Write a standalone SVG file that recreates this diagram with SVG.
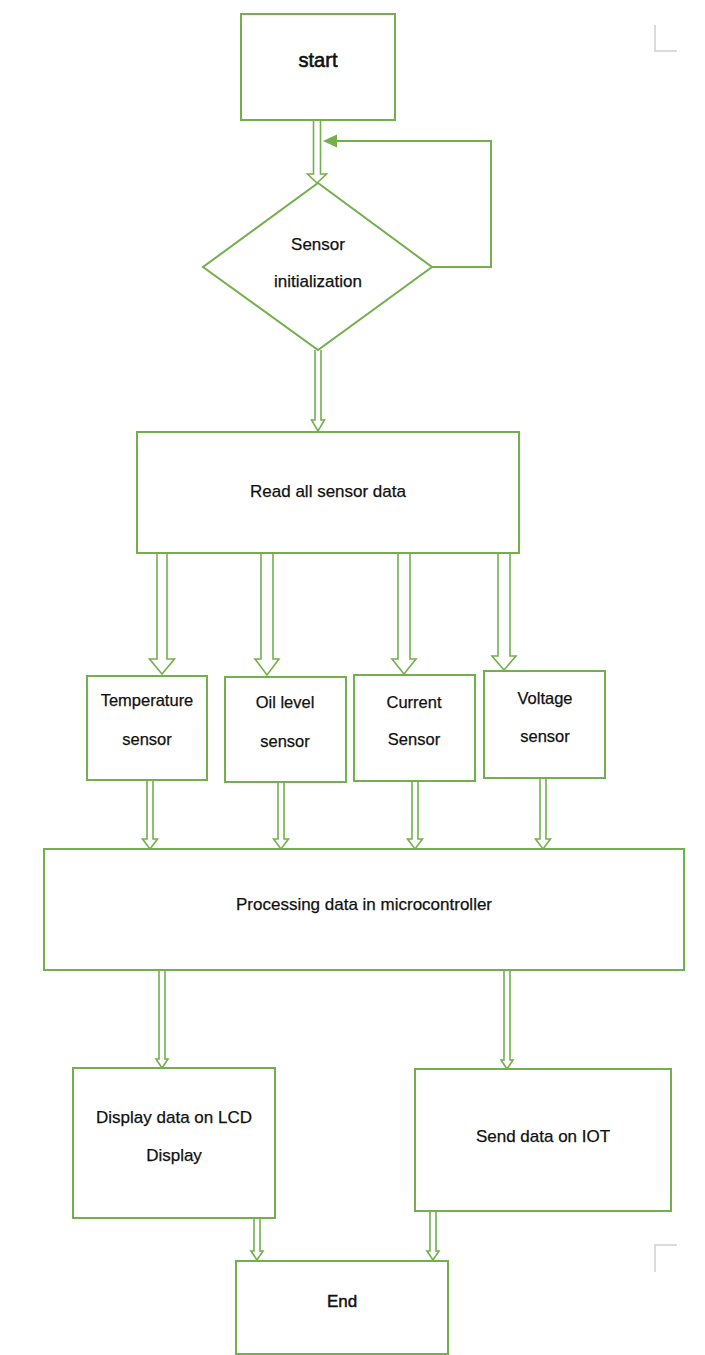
<svg xmlns="http://www.w3.org/2000/svg" width="705" height="1355" viewBox="0 0 705 1355">
<style>
.box{fill:#ffffff;stroke:#74AF4E;stroke-width:2}
.arr{fill:#ffffff;stroke:#74AF4E;stroke-width:1.6;stroke-linejoin:miter}
.line{fill:none;stroke:#74AF4E;stroke-width:2}
.head{fill:#74AF4E;stroke:none}
.t{font-family:"Liberation Sans",Arial,sans-serif;font-size:17px;fill:#111111;text-anchor:middle;stroke:#111111;stroke-width:0.25}
.t16{font-size:16.5px}
.big{font-size:20px;stroke-width:0.6}
.endt{font-size:17px;stroke-width:0.45}
.mark{fill:none;stroke:#d0d0d0;stroke-width:1.5}
</style>
<rect x="0" y="0" width="705" height="1355" fill="#ffffff"/>
<g id="marks">
<polyline class="mark" points="655,25 655,51 677,51"/>
<polyline class="mark" points="655,1272 655,1245 677,1245"/>
</g>
<g id="connectors">
<polyline class="arr" points="313.5,120 313.5,174 307.5,174 317,183 326.5,174 320.5,174 320.5,120"/>
<polyline class="line" points="432,267 491,267 491,141 336,141"/>
<polygon class="head" points="323,141 337,134.5 337,147.5"/>
<polyline class="arr" points="315,350 315,420 311.5,420 318,431 324.5,420 321,420 321,350"/>
<polyline class="arr" points="157,553 157,659 149.5,659 162,674 174.5,659 167,659 167,553"/>
<polyline class="arr" points="261,553 261,659 255,659 267,675 279,659 273,659 273,553"/>
<polyline class="arr" points="398,553 398,659 392,659 404,674 416,659 410,659 410,553"/>
<polyline class="arr" points="498,553 498,656 492,656 504,670 516,656 510,656 510,553"/>
<polyline class="arr" points="147,780 147,839 142.5,839 150,849 157.5,839 153,839 153,780"/>
<polyline class="arr" points="278,782 278,839 273.5,839 281,849 288.5,839 284,839 284,782"/>
<polyline class="arr" points="412,781 412,839 407.5,839 415,849 422.5,839 418,839 418,781"/>
<polyline class="arr" points="540,778 540,839 535.5,839 543,849 550.5,839 546,839 546,778"/>
<polyline class="arr" points="159,970 159,1059 156,1059 162,1068 168,1059 165,1059 165,970"/>
<polyline class="arr" points="504,970 504,1060 501,1060 507,1069 513,1060 510,1060 510,970"/>
<polyline class="arr" points="254,1218 254,1251 251,1251 257,1260 263,1251 260,1251 260,1218"/>
<polyline class="arr" points="430,1211 430,1251 427,1251 433,1260 439,1251 436,1251 436,1211"/>
</g>
<g id="start">
<rect class="box" x="241" y="14" width="154" height="106"/>
<text class="t big" x="318" y="67">start</text>
</g>
<g id="sensor-init">
<polygon class="box" points="318,183 432,267 318,350 203,267"/>
<text class="t" x="318" y="250">Sensor</text>
<text class="t" x="318" y="287">initialization</text>
</g>
<g id="read">
<rect class="box" x="137" y="432" width="382" height="121"/>
<text class="t" x="328" y="497">Read all sensor data</text>
</g>
<g id="temperature">
<rect class="box" x="87" y="676" width="120" height="104"/>
<text class="t t16" x="147" y="706">Temperature</text>
<text class="t t16" x="147" y="745">sensor</text>
</g>
<g id="oil">
<rect class="box" x="225" y="677" width="121" height="105"/>
<text class="t t16" x="285" y="708">Oil level</text>
<text class="t t16" x="285" y="747">sensor</text>
</g>
<g id="current">
<rect class="box" x="354" y="675" width="121" height="106"/>
<text class="t t16" x="414" y="708">Current</text>
<text class="t t16" x="414" y="745">Sensor</text>
</g>
<g id="voltage">
<rect class="box" x="484" y="671" width="121" height="107"/>
<text class="t t16" x="545" y="704">Voltage</text>
<text class="t t16" x="545" y="742">sensor</text>
</g>
<g id="processing">
<rect class="box" x="44" y="849" width="640" height="121"/>
<text class="t" x="364" y="910">Processing data in microcontroller</text>
</g>
<g id="display">
<rect class="box" x="73" y="1068" width="202" height="150"/>
<text class="t" x="174" y="1123">Display data on LCD</text>
<text class="t" x="174" y="1161">Display</text>
</g>
<g id="iot">
<rect class="box" x="415" y="1069" width="256" height="142"/>
<text class="t" x="543" y="1142">Send data on IOT</text>
</g>
<g id="end">
<rect class="box" x="236" y="1261" width="212" height="93"/>
<text class="t endt" x="342" y="1307">End</text>
</g>
</svg>
